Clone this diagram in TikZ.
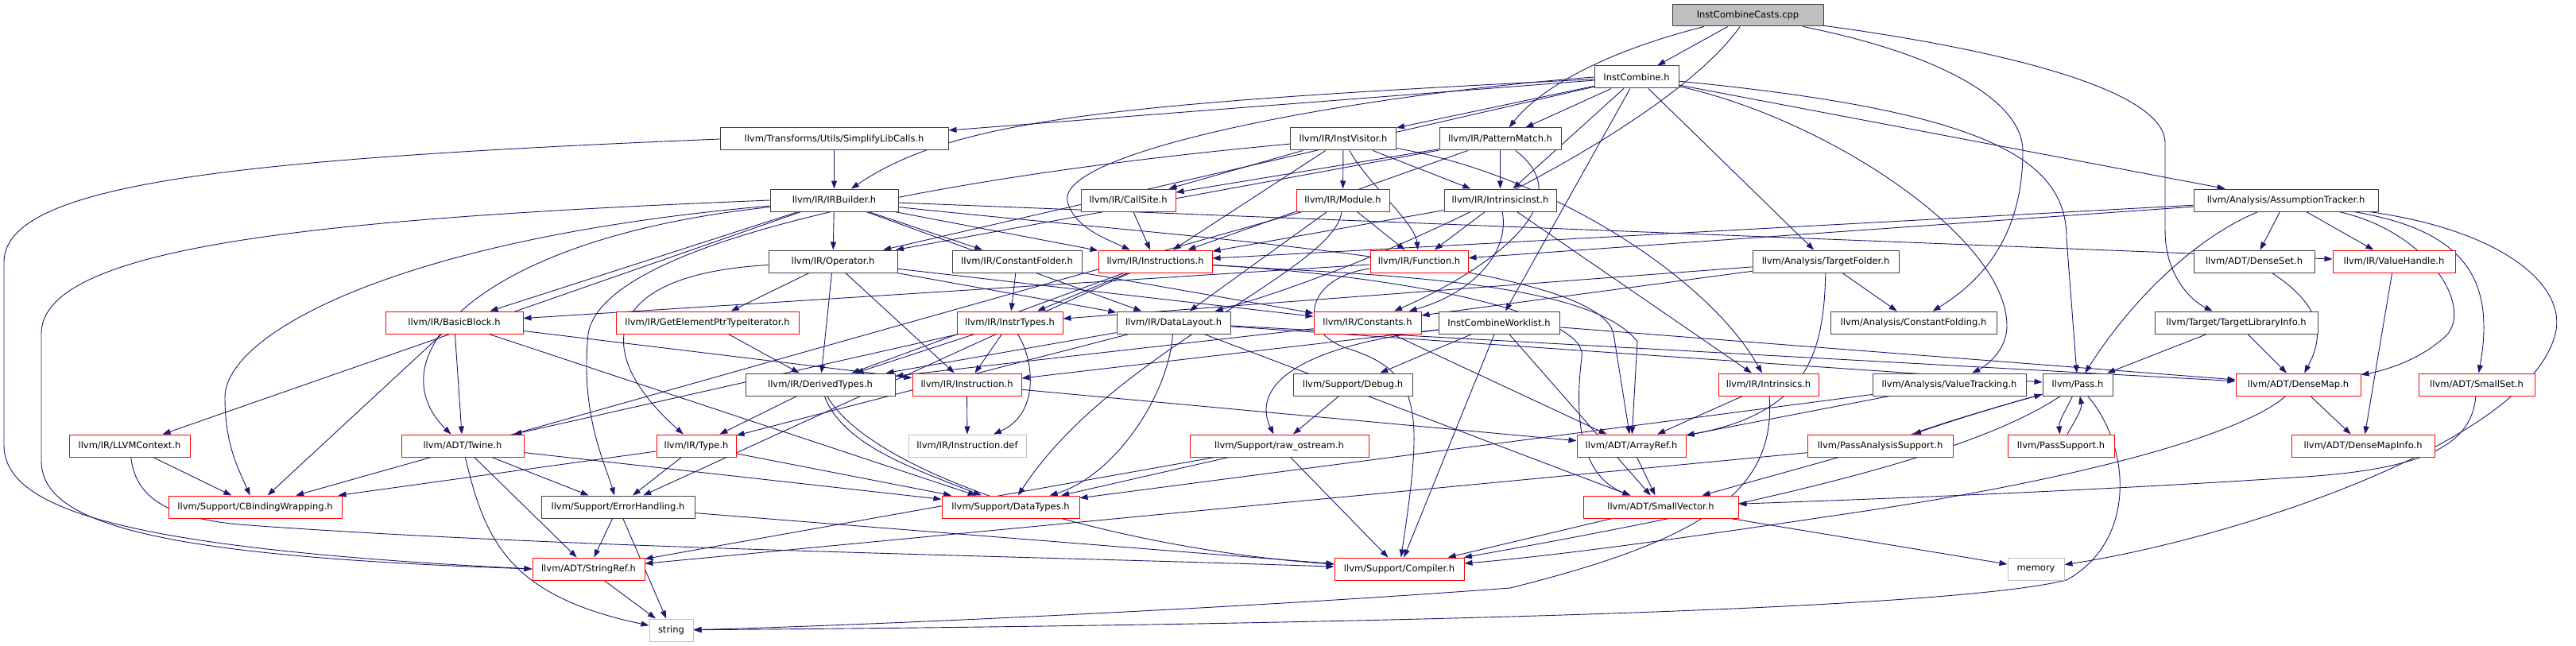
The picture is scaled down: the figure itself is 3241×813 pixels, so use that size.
\documentclass[tikz,border=0pt]{standalone}
\usepackage{fontspec}
\setmainfont{DejaVu Sans}
\usepackage{tikz}
\usetikzlibrary{arrows.meta}
\definecolor{edgeblue}{RGB}{25,25,112}
\definecolor{hdrgrey}{RGB}{191,191,191}
\pgfdeclarelayer{bg}
\pgfsetlayers{bg,main}

\begin{document}
\begin{tikzpicture}[x=1pt, y=-1pt,
          hdr/.style={draw=black!75, line width=1pt, fill=white,
                      minimum height=28pt, inner sep=2pt,
                      font=\fontsize{11.5}{13}\selectfont},
          hdrred/.style={hdr, draw=red},
          hdrgray/.style={hdr, draw=hdrgrey},
          hdrroot/.style={hdr, fill=hdrgrey},
          arr/.style={-{Triangle[length=10pt,width=7pt]}, line width=0.9pt, edgeblue}
        ]
          \useasboundingbox (0,0) rectangle (3241,813);
          % rows of headers
          \node[hdrroot, minimum width=190pt, minimum height=27pt] (cpp) at (2199,19.5) {InstCombineCasts.cpp};
          \node[hdr, minimum width=106pt] (ic) at (2059,97) {InstCombine.h};

          \node[hdr, minimum width=287pt] (slc) at (1049.5,175) {llvm/Transforms/Utils/SimplifyLibCalls.h};
          \node[hdr, minimum width=133pt] (iv) at (1690,175) {llvm/IR/InstVisitor.h};
          \node[hdr, minimum width=153pt] (pm) at (1887.5,175) {llvm/IR/PatternMatch.h};

          \node[hdr, minimum width=161pt] (irb) at (1049.5,252) {llvm/IR/IRBuilder.h};
          \node[hdrred, minimum width=119pt] (cs) at (1419.5,252) {llvm/IR/CallSite.h};
          \node[hdrred, minimum width=117pt] (mod) at (1689.5,252) {llvm/IR/Module.h};
          \node[hdr, minimum width=141pt] (ii) at (1887.5,252) {llvm/IR/IntrinsicInst.h};
          \node[hdr, minimum width=232pt] (at) at (2876,252) {llvm/Analysis/AssumptionTracker.h};

          \node[hdr, minimum width=162pt] (op) at (1048,329) {llvm/IR/Operator.h};
          \node[hdr, minimum width=163pt] (cf) at (1279.5,329) {llvm/IR/ConstantFolder.h};
          \node[hdrred, minimum width=143pt] (insts) at (1453.5,329) {llvm/IR/Instructions.h};
          \node[hdrred, minimum width=123pt] (fn) at (1785.5,329) {llvm/IR/Function.h};
          \node[hdr, minimum width=184pt] (tf) at (2297,329) {llvm/Analysis/TargetFolder.h};
          \node[hdr, minimum width=152pt] (dset) at (2836,329) {llvm/ADT/DenseSet.h};
          \node[hdrred, minimum width=154pt] (vh) at (3012,329) {llvm/IR/ValueHandle.h};

          \node[hdrred, minimum width=173pt] (bb) at (571.5,406) {llvm/IR/BasicBlock.h};
          \node[hdrred, minimum width=230pt] (gep) at (890,406) {llvm/IR/GetElementPtrTypeIterator.h};
          \node[hdrred, minimum width=133pt] (it) at (1270.5,406) {llvm/IR/InstrTypes.h};
          \node[hdr, minimum width=143pt] (dl) at (1476.5,406) {llvm/IR/DataLayout.h};
          \node[hdrred, minimum width=135pt] (cst) at (1720.5,406) {llvm/IR/Constants.h};
          \node[hdr, minimum width=152pt] (icw) at (1886,406) {InstCombineWorklist.h};
          \node[hdr, minimum width=209pt] (cfold) at (2407.5,406) {llvm/Analysis/ConstantFolding.h};
          \node[hdr, minimum width=205pt] (tli) at (2813.5,406) {llvm/Target/TargetLibraryInfo.h};

          \node[hdr, minimum width=188pt] (dt) at (1032,484) {llvm/IR/DerivedTypes.h};
          \node[hdrred, minimum width=137pt] (inst) at (1216.5,484) {llvm/IR/Instruction.h};
          \node[hdr, minimum width=150pt] (dbg) at (1702,484) {llvm/Support/Debug.h};
          \node[hdrred, minimum width=126pt] (intr) at (2225,484) {llvm/IR/Intrinsics.h};
          \node[hdr, minimum width=193pt] (vt) at (2452.5,484) {llvm/Analysis/ValueTracking.h};
          \node[hdr, minimum width=88pt] (pass) at (2614,484) {llvm/Pass.h};
          \node[hdrred, minimum width=157pt] (dmap) at (2891.5,484) {llvm/ADT/DenseMap.h};
          \node[hdrred, minimum width=146pt] (sset) at (3116,484) {llvm/ADT/SmallSet.h};

          \node[hdrred, minimum width=152pt] (ctx) at (163,561) {llvm/IR/LLVMContext.h};
          \node[hdrred, minimum width=154pt] (tw) at (582,561) {llvm/ADT/Twine.h};
          \node[hdrred, minimum width=100pt] (ty) at (876,561) {llvm/IR/Type.h};
          \node[hdrgray, minimum width=148pt] (idef) at (1217,561) {llvm/IR/Instruction.def};
          \node[hdrred, minimum width=225pt] (ros) at (1609.5,561) {llvm/Support/raw\_ostream.h};
          \node[hdrred, minimum width=137pt] (ar) at (2052.5,561) {llvm/ADT/ArrayRef.h};
          \node[hdrred, minimum width=183pt] (pas) at (2365.5,561) {llvm/PassAnalysisSupport.h};
          \node[hdrred, minimum width=134pt] (ps) at (2593,561) {llvm/PassSupport.h};
          \node[hdrred, minimum width=180pt] (dmi) at (2973,561) {llvm/ADT/DenseMapInfo.h};

          \node[hdrred, minimum width=218pt] (cbw) at (321,638) {llvm/Support/CBindingWrapping.h};
          \node[hdr, minimum width=193pt] (eh) at (777.5,638) {llvm/Support/ErrorHandling.h};
          \node[hdrred, minimum width=173pt] (dty) at (1271.5,638) {llvm/Support/DataTypes.h};
          \node[hdrred, minimum width=195pt] (sv) at (2089.5,638) {llvm/ADT/SmallVector.h};

          \node[hdrred, minimum width=141pt] (sref) at (740.5,716) {llvm/ADT/StringRef.h};
          \node[hdrred, minimum width=163pt] (comp) at (1760.5,716) {llvm/Support/Compiler.h};
          \node[hdrgray, minimum width=71pt] (mem) at (2561.5,716) {memory};

          \node[hdrgray, minimum width=55pt] (str) at (844.5,793) {string};

          \begin{pgfonlayer}{bg}
          % includes of the source file
          \draw[arr] (cpp) -- (ic);
          \draw[arr] (cpp) .. controls (2000,70) and (1930,120) .. (pm);
          \draw[arr] (cpp) .. controls (2100,160) and (1750,330) .. (dl);
          \draw[arr] (cpp) .. controls (2450,70) and (2545,130) .. (2545,190) .. controls (2545,290) and (2500,350) .. (cfold);
          \draw[arr] (cpp) .. controls (2500,60) and (2724,110) .. (2724,180) -- (2724,290) .. controls (2724,350) and (2760,380) .. (tli);
          % InstCombine.h
          \draw[arr] (ic) -- (slc);
          \draw[arr] (ic) .. controls (1400,130) and (1200,150) .. (irb);
          \draw[arr] (ic) -- (iv);
          \draw[arr] (ic) -- (pm);
          \draw[arr] (ic) -- (ii);
          \draw[arr] (ic) -- (op);
          \draw[arr] (ic.west) .. controls (1700,120) and (1330,190) .. (1343,253) .. controls (1350,285) and (1390,300) .. (insts);
          \draw[arr] (ic) -- (icw);
          \draw[arr] (ic) -- (tf);
          \draw[arr] (ic) .. controls (2300,150) and (2525,300) .. (2525,410) .. controls (2525,440) and (2500,460) .. (vt);
          \draw[arr] (ic) -- (at);
          \draw[arr] (ic) .. controls (2500,140) and (2600,200) .. (2600,300) -- (pass);
          % second row
          \draw[arr] (slc) -- (irb);
          \draw[arr] (slc.west) .. controls (300,200) and (5,230) .. (5,330) -- (5,560) .. controls (5,640) and (150,690) .. (sref.west);
          \draw[arr] (iv) -- (cs);
          \draw[arr] (iv) .. controls (1720,230) and (1780,280) .. (fn);
          \draw[arr] (iv) -- (insts);
          \draw[arr] (iv) .. controls (1950,220) and (2150,350) .. (intr);
          \draw[arr] (iv) -- (ii);
          \draw[arr] (iv) -- (mod);
          \draw[arr] (iv) .. controls (1200,220) and (760,300) .. (740,420) .. controls (730,520) and (760,580) .. (eh);
          \draw[arr] (pm) -- (cs);
          \draw[arr] (pm) .. controls (2000,260) and (1850,350) .. (cst);
          \draw[arr] (pm) -- (insts);
          \draw[arr] (pm) -- (ii);
          \draw[arr] (pm) -- (op);
          % IRBuilder.h
          \draw[arr] (irb) -- (op);
          \draw[arr] (irb) -- (cf);
          \draw[arr] (irb) -- (insts);
          \draw[arr] (irb) -- (dl);
          \draw[arr] (irb) -- (bb);
          \draw[arr] (irb) -- (ctx);
          \draw[arr] (irb) .. controls (600,300) and (470,450) .. (tw);
          \draw[arr] (irb) .. controls (500,300) and (283,420) .. (283,500) .. controls (283,560) and (300,590) .. (cbw);
          \draw[arr] (irb.west) .. controls (400,275) and (52,310) .. (52,420) -- (52,580) .. controls (52,660) and (200,700) .. (sref.west);
          \draw[arr] (irb) -- (vh);
          \draw[arr] (irb) .. controls (1500,300) and (2010,330) .. (2030,420) -- (ar);
          % third row
          \draw[arr] (cs) -- (insts);
          \draw[arr] (mod) -- (fn);
          \draw[arr] (mod) -- (dl);
          \draw[arr] (mod) -- (cbw);
          \draw[arr] (mod) .. controls (1680,340) and (1400,440) .. (dty);
          \draw[arr] (ii) .. controls (1900,320) and (1850,370) .. (cst);
          \draw[arr] (ii) -- (fn);
          \draw[arr] (ii) -- (insts);
          \draw[arr] (ii) -- (intr);
          \draw[arr] (at) .. controls (3050,290) and (3110,380) .. (3080,420) .. controls (3040,460) and (2980,470) .. (dmap);
          \draw[arr] (at) -- (dset);
          \draw[arr] (at) .. controls (3100,290) and (3140,350) .. (sset);
          \draw[arr] (at) -- (fn);
          \draw[arr] (at) -- (insts);
          \draw[arr] (at) -- (vh);
          \draw[arr] (at) .. controls (2760,300) and (2680,380) .. (pass);
          \draw[arr] (at) .. controls (3150,290) and (3230,360) .. (3215,420) .. controls (3180,560) and (2800,680) .. (mem);
          % fourth row
          \draw[arr] (op) -- (cst);
          \draw[arr] (op) -- (dl);
          \draw[arr] (op) -- (dt);
          \draw[arr] (op) -- (gep);
          \draw[arr] (op) -- (inst);
          \draw[arr] (op) .. controls (760,345) and (740,440) .. (ty);
          \draw[arr] (cf) -- (cst);
          \draw[arr] (cf) -- (it);
          \draw[arr] (insts) .. controls (1700,345) and (2000,350) .. (2060,430) -- (ar);
          \draw[arr] (insts) .. controls (1800,350) and (2000,400) .. (1990,450) .. controls (1980,530) and (1990,600) .. (sv);
          \draw[arr] (insts) -- (dt);
          \draw[arr] (insts) -- (it);
          \draw[arr] (insts) -- (eh);
          \draw[arr] (fn) -- (bb);
          \draw[arr] (fn) .. controls (1640,350) and (1630,420) .. (1700,440) .. controls (1790,470) and (1790,520) .. (comp);
          \draw[arr] (tf) -- (cfold);
          \draw[arr] (tf) -- (cst);
          \draw[arr] (tf) -- (it);
          \draw[arr] (tf) .. controls (2295,450) and (2270,520) .. (ar);
          \draw[arr] (dset) .. controls (2930,390) and (2920,430) .. (dmap);
          \draw[arr] (vh) -- (dmi);
          % fifth row
          \draw[arr] (bb) -- (tw);
          \draw[arr] (bb) -- (inst);
          \draw[arr] (bb) -- (cbw);
          \draw[arr] (bb) -- (dty);
          \draw[arr] (gep) -- (dt);
          \draw[arr] (it) -- (inst);
          \draw[arr] (it) -- (dt);
          \draw[arr] (it) -- (tw);
          \draw[arr] (it) .. controls (1300,450) and (1310,520) .. (idef);
          \draw[arr] (dl) -- (dmap);
          \draw[arr] (dl) -- (sv);
          \draw[arr] (dl) -- (dt);
          \draw[arr] (dl) -- (ty);
          \draw[arr] (dl) .. controls (1470,500) and (1400,600) .. (dty);
          \draw[arr] (dl) -- (pass);
          \draw[arr] (cst) -- (ar);
          \draw[arr] (cst) -- (dt);
          \draw[arr] (icw) -- (dmap);
          \draw[arr] (icw) -- (sv);
          \draw[arr] (icw) -- (inst);
          \draw[arr] (icw) -- (comp);
          \draw[arr] (icw) -- (dbg);
          \draw[arr] (icw) .. controls (1600,440) and (1580,500) .. (ros);
          \draw[arr] (tli) -- (dmap);
          \draw[arr] (tli) -- (pass);
          % sixth row
          \draw[arr] (dt) -- (ty);
          \draw[arr] (dt) .. controls (1060,560) and (1150,590) .. (dty);
          \draw[arr] (dt) .. controls (1100,600) and (1400,690) .. (comp);
          \draw[arr] (inst) -- (ar);
          \draw[arr] (inst) -- (idef);
          \draw[arr] (dbg) -- (ros);
          \draw[arr] (intr) -- (ar);
          \draw[arr] (intr) .. controls (2235,620) and (2140,680) .. (1900,740) .. controls (1500,770) and (1000,790) .. (str);
          \draw[arr] (vt) -- (ar);
          \draw[arr] (vt) -- (dty);
          \draw[arr] (pass) .. controls (2500,515) and (2440,535) .. (pas);
          \draw[arr] (pas) .. controls (2450,530) and (2520,510) .. (pass);
          \draw[arr] (pass) .. controls (2600,515) and (2590,530) .. (ps);
          \draw[arr] (ps) .. controls (2610,530) and (2620,515) .. (pass);
          \draw[arr] (pass) .. controls (2500,560) and (2300,620) .. (comp);
          \draw[arr] (pass) .. controls (2680,560) and (2690,680) .. (2600,730) .. controls (2400,780) and (1200,790) .. (str);
          \draw[arr] (dmap) -- (dmi);
          \draw[arr] (dmap) .. controls (2830,540) and (2650,600) .. (2300,650) .. controls (2100,680) and (1950,700) .. (comp);
          \draw[arr] (sset) .. controls (3110,560) and (3050,590) .. (2900,600) .. controls (2600,620) and (2300,630) .. (sv);
          % lower rows
          \draw[arr] (ctx) -- (cbw);
          \draw[arr] (ctx) .. controls (170,620) and (200,650) .. (300,660) .. controls (700,690) and (1300,700) .. (comp);
          \draw[arr] (tw) -- (sref);
          \draw[arr] (tw) -- (eh);
          \draw[arr] (tw) -- (dty);
          \draw[arr] (tw) .. controls (610,680) and (640,750) .. (str);
          \draw[arr] (ty) -- (cbw);
          \draw[arr] (ty) -- (dty);
          \draw[arr] (ty) -- (eh);
          \draw[arr] (ros) -- (sref);
          \draw[arr] (ros) -- (comp);
          \draw[arr] (ros) -- (dty);
          \draw[arr] (ar) -- (sv);
          \draw[arr] (pas) -- (sv);
          \draw[arr] (pas) -- (sref);
          \draw[arr] (eh) -- (sref);
          \draw[arr] (eh) -- (comp);
          \draw[arr] (eh) -- (str);
          \draw[arr] (sv) -- (comp);
          \draw[arr] (sv) -- (mem);
          \draw[arr] (sref) -- (str);
          \end{pgfonlayer}
        \end{tikzpicture}
\end{document}
